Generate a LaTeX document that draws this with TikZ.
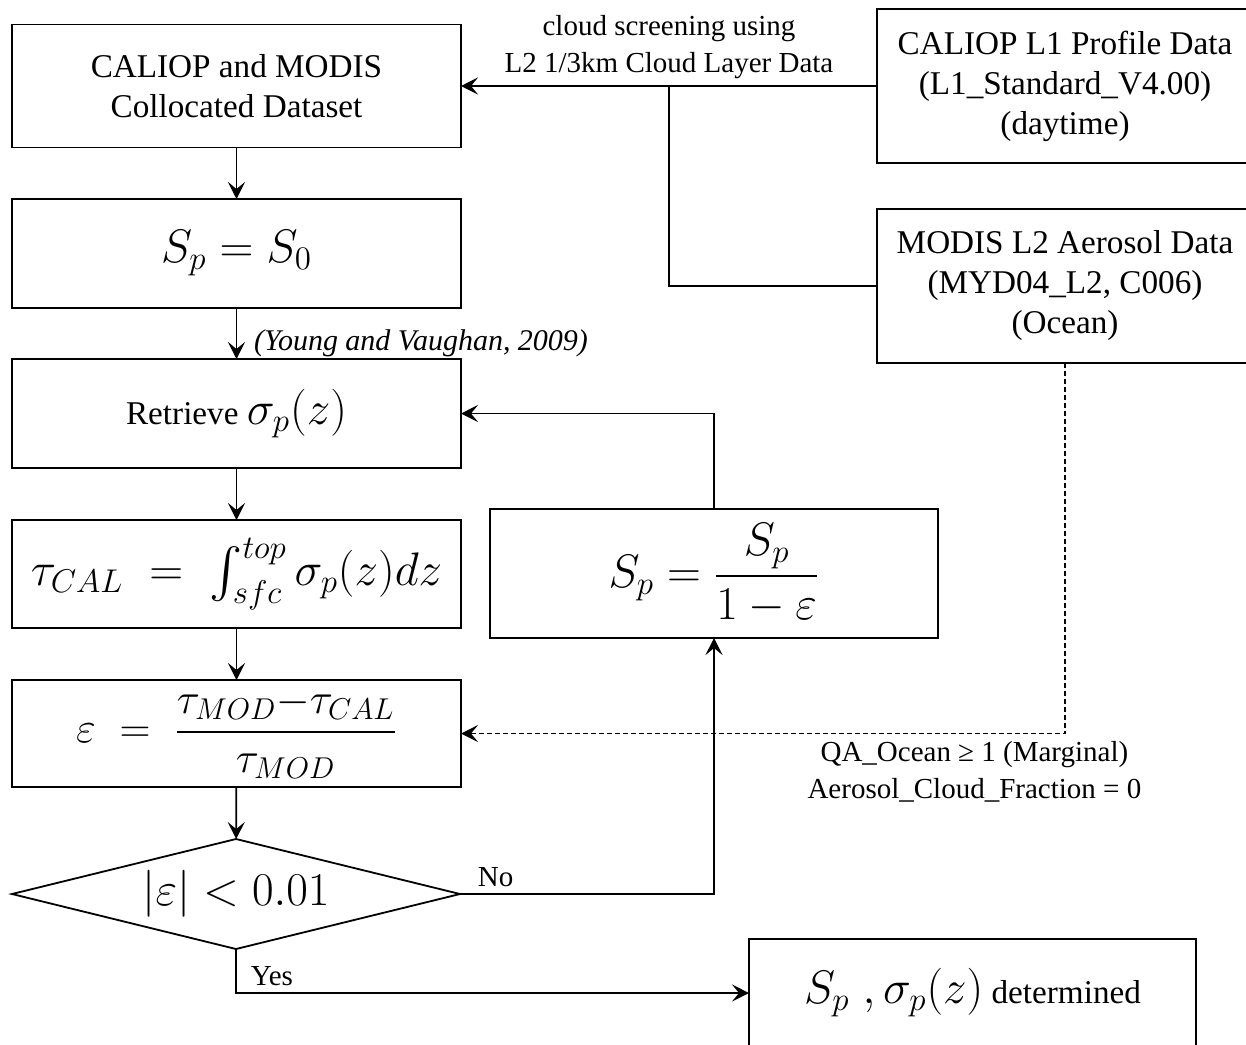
\RequirePackage{fix-cm}
\documentclass[tikz,border=0pt]{standalone}
\usepackage{amsmath}
\usepackage{fontspec}
\setmainfont{Liberation Serif}
\usetikzlibrary{arrows.meta,calc}
\usetikzlibrary{positioning,shapes}
\tikzstyle{box}=[draw, rectangle, inner sep=0pt, outer sep=0pt, minimum width=224.5pt,
  align=center, font=\fontsize{16.6}{20}\selectfont]
\tikzstyle{lbl}=[font=\fontsize{14.5}{18.5}\selectfont, align=center]
\newcommand{\eqsize}{\fontsize{23.5}{28}\selectfont}

\begin{document}
\begin{tikzpicture}[x=0.5pt, y=-0.5pt, line width=0.9pt,
  >={Stealth[length=8.5pt,width=8.5pt,inset=3.5pt]}]
  \useasboundingbox (0,0) rectangle (1246,1044);

  % input data
  \node[box, minimum width=188pt, minimum height=77pt] (calL1) at (1065,86)
  {CALIOP L1 Profile Data\\(L1\_Standard\_V4.00)\\(daytime)};
  \node[box, minimum width=188pt, minimum height=77pt] (modL2) at (1065,286)
  {MODIS L2 Aerosol Data\\(MYD04\_L2, C006)\\(Ocean)};
  \coordinate (junc) at (669,86);

  % main column
  \node[box, minimum height=61.5pt] (colloc) at (236.5,86)
  {CALIOP and MODIS\\Collocated Dataset};
  \node[box, minimum height=54.5pt] (sinit) at (236.5,253.5) {\eqsize $S_p = S_0$};
  \node[box, minimum height=54.5pt] (retr) at (236.5,413.5)
  {Retrieve {\eqsize $\sigma_p(z)$}};
  \node[box, minimum height=54pt] (tcal) at (236.5,574)
  {\eqsize $\tau_{CAL} \;=\; \int_{sfc}^{top}\sigma_p(z)dz$};
  \node[box, minimum height=53.5pt] (eps) at (236.5,733.5)
  {\fontsize{21.5}{26}\selectfont
  $\varepsilon \;=\; \dfrac{\tau_{MOD}{-}\tau_{CAL}}{\tau_{MOD}}$};
  \node[draw, diamond, aspect=4.07, inner sep=0pt, outer sep=0pt, minimum width=224pt,
  minimum height=55pt] (cond) at (236,894) {\eqsize $|\varepsilon| < 0.01$};

  % update and result
  \node[box, minimum width=224pt, minimum height=64.5pt] (supd) at (714,573.5)
  {\eqsize $S_p = \dfrac{S_p}{1-\varepsilon}$};
  \node[box, minimum width=223.5pt, minimum height=54pt] (done) at (972.5,993)
  {{\eqsize $S_p\;,\sigma_p(z)$} determined};

  % cloud screening
  \draw[->] (calL1.west) -- node[lbl, above]
  {cloud screening using\\L2 1/3km Cloud Layer Data} (colloc.east);
  \draw (modL2.west) -| (junc);

  \draw[->] (colloc) -- (sinit);
  \draw[->] (sinit) -- node[lbl, pos=0.7, anchor=west, xshift=5pt, font=\fontsize{15}{18}\selectfont]
  {\itshape (Young and Vaughan, 2009)} (retr);
  \draw[->] (retr) -- (tcal);
  \draw[->] (tcal) -- (eps);
  \draw[->] (eps) -- (cond);

  % iteration loop
  \draw[->] (cond.east) -| node[lbl, above, pos=0.07] {No} (supd.south);
  \draw[->] (supd.north) |- (retr.east);
  \draw[->] (cond.south) |- node[lbl, above, pos=0.535] {Yes} (done.west);

  % MODIS AOD
  \draw[->, line width=0.7pt, dash pattern=on 2.5pt off 1.5pt] (modL2.south) |-
  node[lbl, below, pos=0.575]
  {QA\_Ocean ≥ 1 (Marginal)\\Aerosol\_Cloud\_Fraction = 0} (eps.east);

\end{tikzpicture}
\end{document}
